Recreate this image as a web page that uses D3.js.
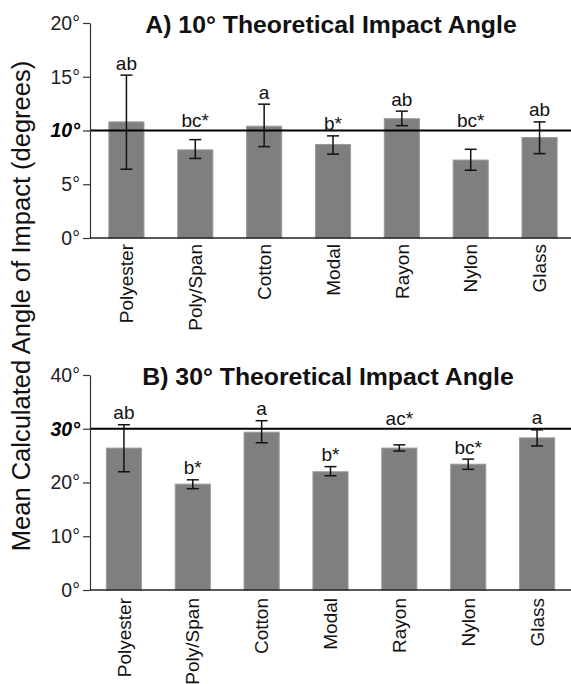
<!DOCTYPE html>
<html>
<head>
<meta charset="utf-8">
<style>
  body { margin: 0; background: #fff; }
  text { font-family: "Liberation Sans", Arial, sans-serif; }
</style>
</head>
<body>
<div id="chart"></div>
<script src="https://cdn.jsdelivr.net/npm/d3@7"></script>
<script>
var categories = ["Polyester", "Poly/Span", "Cotton", "Modal", "Rayon", "Nylon", "Glass"];

// panel A: 10 degree theoretical angle
var meanA = [10.8, 8.2, 10.4, 8.7, 11.1, 7.25, 9.35];
var lowA = [6.4, 7.4, 8.5, 7.8, 10.45, 6.3, 7.85];
var highA = [15.15, 9.15, 12.45, 9.5, 11.8, 8.25, 10.8];
var lettersA = ["ab", "bc*", "a", "b*", "ab", "bc*", "ab"];
var ticksA = [0, 5, 10, 15, 20];

// panel B: 30 degree theoretical angle
var meanB = [26.4, 19.7, 29.35, 22.0, 26.4, 23.4, 28.3];
var lowB = [22.0, 18.85, 27.4, 21.25, 25.85, 22.45, 26.8];
var highB = [30.75, 20.5, 31.5, 22.95, 27.0, 24.35, 29.8];
var lettersB = ["ab", "b*", "a", "b*", "ac*", "bc*", "a"];
var ticksB = [0, 10, 20, 30, 40];

var w = 571, h = 684;
var svg = d3.select("#chart").append("svg").attr("width", w).attr("height", h);
svg.append("rect").attr("width", w).attr("height", h).attr("fill", "#fff");

svg.append("text")
  .attr("transform", "translate(21,306) rotate(-90)")
  .attr("text-anchor", "middle")
  .attr("dominant-baseline", "central")
  .attr("font-size", 25.5)
  .attr("fill", "#111")
  .text("Mean Calculated Angle of Impact (degrees)");

function panel(opt) {
  var y = d3.scaleLinear().domain([0, opt.ticks[opt.ticks.length - 1]]).range([opt.y0, opt.y1]);
  var x = d3.scaleBand().domain(categories).range([opt.x0, opt.x0 + 482])
    .paddingInner(0.49).paddingOuter(0.245);
  var g = svg.append("g");
  var axisX = 90;

  g.append("text")
    .attr("x", opt.titleX).attr("y", opt.titleY)
    .attr("text-anchor", "middle")
    .attr("font-size", 24.8).attr("font-weight", "bold")
    .attr("fill", "#111")
    .text(opt.title);

  // bars
  g.selectAll("rect.bar").data(categories).enter().append("rect")
    .attr("class", "bar")
    .attr("x", function (d) { return x(d); })
    .attr("width", x.bandwidth())
    .attr("y", function (d, i) { return y(opt.mean[i]); })
    .attr("height", function (d, i) { return y(0) - y(opt.mean[i]); })
    .attr("fill", "#7f7f7f")
    .attr("stroke", "#9a9a9a")
    .attr("stroke-width", 1);

  // reference line
  g.append("line")
    .attr("x1", axisX).attr("x2", w)
    .attr("y1", y(opt.ref)).attr("y2", y(opt.ref))
    .attr("stroke", "#000").attr("stroke-width", 2.2);

  // error bars
  var eb = g.selectAll("g.err").data(categories).enter().append("g")
    .attr("stroke", "#111").attr("stroke-width", 1.5);
  eb.append("line")
    .attr("x1", function (d) { return x(d) + x.bandwidth() / 2; })
    .attr("x2", function (d) { return x(d) + x.bandwidth() / 2; })
    .attr("y1", function (d, i) { return y(opt.low[i]); })
    .attr("y2", function (d, i) { return y(opt.high[i]); });
  [opt.low, opt.high].forEach(function (arr) {
    eb.append("line")
      .attr("x1", function (d) { return x(d) + x.bandwidth() / 2 - 6; })
      .attr("x2", function (d) { return x(d) + x.bandwidth() / 2 + 6; })
      .attr("y1", function (d, i) { return y(arr[i]); })
      .attr("y2", function (d, i) { return y(arr[i]); });
  });

  // significance letters: kept clear of the reference line
  g.selectAll("text.letter").data(categories).enter().append("text")
    .attr("class", "letter")
    .attr("x", function (d) { return x(d) + x.bandwidth() / 2; })
    .attr("y", function (d, i) {
      var base = y(opt.high[i]) - 5.5;
      var r = y(opt.ref);
      if (base > r && base - 13 < r + 2) base = r - 4;
      return base;
    })
    .attr("text-anchor", "middle")
    .attr("font-size", 19)
    .attr("fill", "#111")
    .text(function (d, i) { return opt.letters[i]; });

  // y axis
  var ya = g.append("g")
    .attr("transform", "translate(" + axisX + ",0)")
    .call(d3.axisLeft(y).tickValues(opt.ticks).tickSize(7).tickSizeOuter(0).tickPadding(3)
      .tickFormat(function (d) { return d + "°"; }));
  ya.select(".domain").attr("stroke", "#333").attr("stroke-width", 1.2);
  ya.selectAll(".tick line").attr("stroke", "#333").attr("stroke-width", 1.2);
  ya.selectAll(".tick text")
    .attr("font-size", 19.5)
    .attr("font-family", "'Liberation Sans', Arial, sans-serif")
    .attr("fill", "#222")
    .filter(function (d) { return d === opt.ref; })
    .attr("font-weight", "bold").attr("font-style", "italic").attr("fill", "#000");

  // baseline
  g.append("line")
    .attr("x1", axisX).attr("x2", w)
    .attr("y1", y(0)).attr("y2", y(0))
    .attr("stroke", "#222").attr("stroke-width", 1.6);

  // category labels
  var xa = g.append("g")
    .attr("transform", "translate(0," + y(0) + ")")
    .call(d3.axisBottom(x).tickSize(0).tickPadding(0));
  xa.select(".domain").remove();
  xa.selectAll(".tick text")
    .attr("font-size", 19)
    .attr("font-family", "'Liberation Sans', Arial, sans-serif")
    .attr("fill", "#111")
    .attr("text-anchor", "end")
    .attr("transform", "rotate(-90)")
    .attr("x", -opt.labelGap)
    .attr("y", 0)
    .attr("dy", "0.35em");
}

panel({
  title: "A) 10° Theoretical Impact Angle", titleX: 331, titleY: 33,
  y0: 238, y1: 23, x0: 92, ticks: ticksA, ref: 10,
  mean: meanA, low: lowA, high: highA, letters: lettersA, labelGap: 6
});

panel({
  title: "B) 30° Theoretical Impact Angle", titleX: 328, titleY: 385,
  y0: 590, y1: 375, x0: 89.5, ticks: ticksB, ref: 30,
  mean: meanB, low: lowB, high: highB, letters: lettersB, labelGap: 8
});
</script>
</body>
</html>
